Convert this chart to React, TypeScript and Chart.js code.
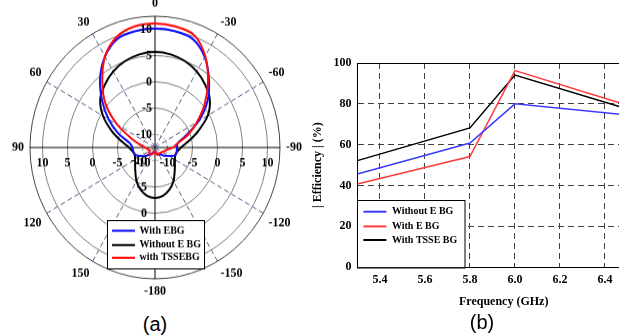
import React, { useEffect, useRef } from "react";
import { Chart, registerables } from "chart.js";

Chart.register(...registerables);

const SERIF = '"Liberation Serif", "Times New Roman", serif';

// ---------- (a) radiation pattern (dB), clockwise from 0 deg ----------
const angleLabels = [
  "0", "-10", "-20", "-30", "-40", "-50", "-60", "-70", "-80", "-90",
  "-100", "-110", "-120", "-130", "-140", "-150", "-160", "-170", "-180",
  "170", "160", "150", "140", "130", "120", "110", "100", "90", "80",
  "70", "60", "50", "40", "30", "20", "10",
];
const radialTickValues = [10, 5, 0, -5, -10];
const radialGridValues = [-12.5, -10, -5, 0, 5, 10, 12.5];
const polarSeriesNames = ["With EBG", "Without E BG", "with TSSEBG"];

const patternWithEbg = [
  10.15, 10.0, 9.5, 7.4, 4.3, 1.2, -2.4, -6.0, -7.9, -8.1,
  -8.1, -8.2, -9.3, -10.1, -10.8, -11.0, -11.2, -11.5, -11.6,
  -11.6, -11.5, -11.2, -10.8, -10.0, -9.3, -8.4, -8.1, -8.0, -7.3,
  -4.7, -1.8, 1.3, 4.6, 7.5, 9.5, 10.0,
];
const patternWithoutEbg = [
  5.7, 5.5, 5.0, 4.2, 3.1, 1.8, -0.3, -3.3, -5.7, -7.3,
  -8.0, -8.2, -7.9, -7.3, -6.4, -5.1, -4.0, -3.2, -2.9,
  -3.2, -4.0, -5.1, -6.4, -7.3, -7.9, -8.2, -8.0, -7.3, -5.7,
  -3.3, -0.5, 1.8, 3.1, 4.2, 5.0, 5.5,
];
const patternWithTssEbg = [
  11.1, 10.9, 10.3, 7.6, 4.0, 0.5, -2.8, -5.5, -7.9, -8.9,
  -10.1, -10.5, -10.8, -11.0, -11.1, -11.2, -11.0, -11.4, -11.8,
  -11.6, -11.3, -11.0, -10.8, -11.0, -11.3, -11.2, -11.0, -10.5, -9.5,
  -7.5, -3.8, 0.4, 3.9, 7.5, 9.9, 10.9,
];

// ---------- (b) efficiency vs frequency ----------
const frequencies = [5.3, 5.8, 6.0, 6.5];
const frequencyTicks = [5.4, 5.6, 5.8, 6.0, 6.2, 6.4];
const effWithoutEbg = [45.6, 60.8, 80.0, 74.5];
const effWithEbg = [40.7, 54.2, 96.3, 79.3];
const effWithTssEbg = [52.2, 68.2, 94.1, 77.5];
const effSeriesNames = ["Without E BG", "With E BG", "With TSSE BG"];

type LegendBox = {
  w: number;
  h: number;
  rows: number[];
  lineFrom: number;
  lineTo: number;
  textX: number;
  font: string;
};

function makeBoxLegend(id: string, place: (c: any) => { left: number; top: number }, box: LegendBox) {
  return {
    id,
    afterDraw(chart: any) {
      const ctx = chart.ctx as CanvasRenderingContext2D;
      const { left, top } = place(chart);
      ctx.save();
      ctx.fillStyle = "#ffffff";
      ctx.fillRect(left, top, box.w, box.h);
      ctx.strokeStyle = "#000";
      ctx.lineWidth = 1;
      ctx.strokeRect(Math.round(left) + 0.5, Math.round(top) + 0.5, box.w, box.h);
      ctx.font = box.font;
      ctx.textBaseline = "middle";
      ctx.textAlign = "left";
      chart.data.datasets.forEach((ds: any, i: number) => {
        const y = top + box.rows[i];
        ctx.strokeStyle = ds.borderColor;
        ctx.lineWidth = 2;
        ctx.beginPath();
        ctx.moveTo(left + box.lineFrom, y);
        ctx.lineTo(left + box.lineTo, y);
        ctx.stroke();
        ctx.fillStyle = "#000";
        ctx.fillText(ds.label, left + box.textX, y);
      });
      ctx.restore();
    },
  };
}

const radialLabelsPlugin = {
  id: "radialLabels",
  afterDatasetsDraw(chart: any) {
    const s = chart.scales.r;
    const ctx = chart.ctx as CanvasRenderingContext2D;
    ctx.save();
    ctx.font = `bold 12px ${SERIF}`;
    ctx.fillStyle = "#000";
    ctx.textBaseline = "middle";
    radialTickValues.forEach((v) => {
      const d = s.getDistanceFromCenterForValue(v);
      ctx.textAlign = "right";
      ctx.fillText(String(v), s.xCenter - 3, s.yCenter - d);
      ctx.fillText(String(v), s.xCenter - 8, s.yCenter + d);
      ctx.textAlign = "center";
      ctx.fillText(String(v), s.xCenter - d, s.yCenter + 15);
      ctx.fillText(String(v), s.xCenter + d, s.yCenter + 15);
    });
    ctx.restore();
  },
};

// The scanned figure (a) is slightly taller than wide; the canvas is shown
// with a small vertical stretch to match it.
const POLAR_SIZE = 294;
const POLAR_CSS_HEIGHT = 309;

function PolarChart() {
  const ref = useRef<HTMLCanvasElement>(null);
  useEffect(() => {
    const labelFont = { family: SERIF, size: 12, weight: "bold" as const, lineHeight: 1 };
    const chart = new Chart(ref.current as HTMLCanvasElement, {
      type: "radar",
      data: {
        labels: angleLabels,
        datasets: [
          { label: polarSeriesNames[0], data: patternWithEbg, borderColor: "#1010ff", order: 1 },
          { label: polarSeriesNames[1], data: patternWithoutEbg, borderColor: "#000000", order: 2 },
          { label: polarSeriesNames[2], data: patternWithTssEbg, borderColor: "#ff0a0a", order: 0 },
        ],
      },
      options: {
        responsive: false,
        animation: false,
        events: [],
        elements: {
          line: { borderWidth: 2, tension: 0.3, fill: false },
          point: { radius: 0, hitRadius: 0 },
        },
        plugins: { legend: { display: false }, tooltip: { enabled: false } },
        scales: {
          r: {
            min: -12.5,
            max: 12.5,
            afterBuildTicks: (s: any) => {
              s.ticks = radialGridValues.map((v) => ({ value: v }));
            },
            ticks: { display: false },
            grid: {
              circular: true,
              color: (c: any) => (c.tick && c.tick.value === 12.5 ? "#444" : "#808080"),
              lineWidth: 1,
            },
            border: {
              dash: (c: any) => (c.tick && c.tick.value === -10 ? [2, 2] : []),
            },
            angleLines: {
              display: true,
              color: (c: any) =>
                c.index % 9 === 0 ? "#000" : c.index % 3 === 0 ? "#5b5b90" : "rgba(0,0,0,0)",
              lineWidth: (c: any) => (c.index % 3 === 0 ? 1 : 0),
              borderDash: (c: any) => (c.index % 9 === 0 ? [] : [5, 3]),
            },
            pointLabels: {
              display: true,
              padding: 6,
              font: labelFont,
              color: "#000",
              callback: (l: string) => (Number(l) % 30 === 0 ? l : ""),
            },
          },
        },
      } as any,
      plugins: [
        radialLabelsPlugin,
        makeBoxLegend(
          "polarLegend",
          (c) => ({ left: c.scales.r.xCenter - 48, top: c.scales.r.yCenter + 69 }),
          { w: 97, h: 46, rows: [10.2, 23.8, 35.9], lineFrom: 5, lineTo: 28, textX: 32.5, font: `bold 10px ${SERIF}` }
        ),
      ],
    });
    return () => chart.destroy();
  }, []);
  return (
    <canvas
      ref={ref}
      width={POLAR_SIZE}
      height={POLAR_SIZE}
      style={{ position: "absolute", left: 10, top: -7, width: POLAR_SIZE, height: POLAR_CSS_HEIGHT }}
    />
  );
}

function EfficiencyChart() {
  const ref = useRef<HTMLCanvasElement>(null);
  useEffect(() => {
    const font = { family: SERIF, size: 12, weight: "bold" as const };
    const series = [effWithoutEbg, effWithEbg, effWithTssEbg];
    const colors = ["#3c3cff", "#ff3c3c", "#000000"];
    const chart = new Chart(ref.current as HTMLCanvasElement, {
      type: "line",
      data: {
        datasets: series.map((vals, i) => ({
          label: effSeriesNames[i],
          data: frequencies.map((f, j) => ({ x: f, y: vals[j] })),
          borderColor: colors[i],
          borderWidth: 1.5,
          pointRadius: 0,
          tension: 0,
          fill: false,
        })),
      },
      options: {
        responsive: false,
        animation: false,
        events: [],
        layout: { padding: { top: 63, left: 0, right: 0, bottom: 0 } },
        plugins: { legend: { display: false }, tooltip: { enabled: false } },
        scales: {
          x: {
            type: "linear",
            min: 5.3,
            max: 6.6,
            afterBuildTicks: (s: any) => {
              s.ticks = frequencyTicks.map((v) => ({ value: v }));
            },
            ticks: {
              callback: (v: any) => Number(v).toFixed(1),
              font,
              color: "#000",
              padding: 6,
              maxRotation: 0,
              autoSkip: false,
            },
            grid: { drawTicks: false, color: "#404040", lineWidth: 1 },
            border: { display: true, color: "#000", width: 1, dash: (c: any) => (c.tick ? [6, 4] : []) },
            title: {
              display: true,
              text: "Frequency (GHz)",
              font,
              color: "#000",
              padding: { top: 1, bottom: 4 },
            },
          },
          y: {
            min: 0,
            max: 100,
            ticks: { stepSize: 20, font, color: "#000", padding: 6 },
            grid: {
              drawTicks: false,
              lineWidth: 1,
              color: (c: any) => (c.tick && c.tick.value === 100 ? "#000" : "#404040"),
            },
            border: {
              display: true,
              color: "#000",
              width: 1,
              dash: (c: any) => (c.tick && c.tick.value > 0 && c.tick.value < 100 ? [6, 4] : []),
            },
            title: {
              display: true,
              text: "| Efficiency | (%)",
              font,
              color: "#000",
              padding: { top: 1, bottom: 2 },
            },
          },
        },
      } as any,
      plugins: [
        makeBoxLegend(
          "effLegend",
          (c) => ({ left: c.chartArea.left, top: c.chartArea.bottom - 67.5 }),
          { w: 107.5, h: 67.5, rows: [12, 26.7, 40.3], lineFrom: 6, lineTo: 29, textX: 34.5, font: `bold 10px ${SERIF}` }
        ),
      ],
    });
    return () => chart.destroy();
  }, []);
  return (
    <canvas
      ref={ref}
      width={340}
      height={313}
      style={{ position: "absolute", left: 310, top: 0, width: 340, height: 313 }}
    />
  );
}

export default function App() {
  const capStyle: React.CSSProperties = {
    position: "absolute",
    width: 100,
    textAlign: "center",
    fontFamily: '"Liberation Sans", Arial, sans-serif',
    fontSize: 20,
    lineHeight: "23px",
    color: "#000",
  };
  return (
    <div
      style={{
        position: "absolute",
        left: 0,
        top: 0,
        width: 619,
        height: 336,
        overflow: "hidden",
        background: "#fff",
      }}
    >
      <PolarChart />
      <EfficiencyChart />
      <div style={{ ...capStyle, left: 105, top: 313 }}>(a)</div>
      <div style={{ ...capStyle, left: 432, top: 311 }}>(b)</div>
    </div>
  );
}
